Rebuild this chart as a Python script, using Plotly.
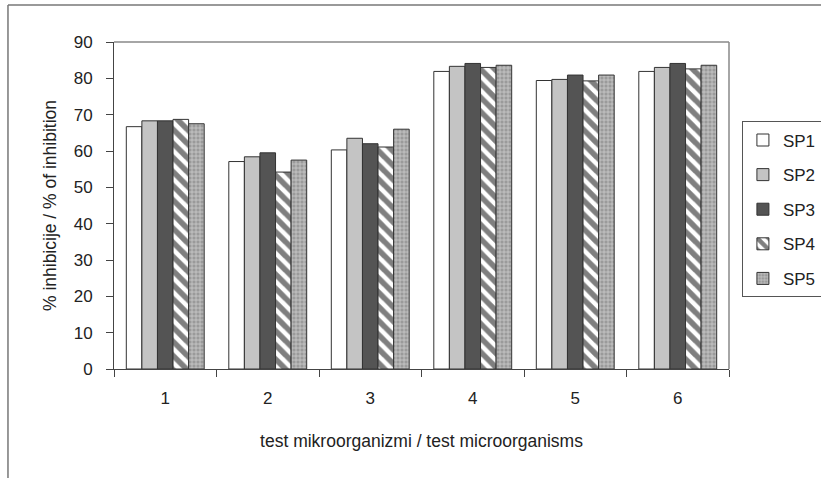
import plotly.graph_objects as go

categories = ["1", "2", "3", "4", "5", "6"]
series_names = ["SP1", "SP2", "SP3", "SP4", "SP5"]
sp1 = [66.7, 57.1, 60.3, 81.9, 79.4, 81.9]
sp2 = [68.3, 58.4, 63.5, 83.3, 79.7, 83.0]
sp3 = [68.3, 59.5, 62.0, 84.1, 80.9, 84.1]
sp4 = [68.7, 54.2, 61.1, 83.0, 79.3, 82.6]
sp5 = [67.5, 57.5, 66.0, 83.6, 80.9, 83.6]
y_ticks = [0, 10, 20, 30, 40, 50, 60, 70, 80, 90]

values = [sp1, sp2, sp3, sp4, sp5]
colors = ["#ffffff", "#c4c4c4", "#545454", "#ffffff", "#a8a8a8"]
patterns = [
    dict(shape=""),
    dict(shape=""),
    dict(shape=""),
    dict(shape="\\", fgcolor="#000000", bgcolor="#ffffff", size=10, solidity=0.55),
    dict(shape="+", fgcolor="#ffffff", bgcolor="#9a9a9a", size=4, solidity=0.35),
]

fig = go.Figure()
for i, (name, vals) in enumerate(zip(series_names, values)):
    fig.add_trace(go.Bar(
        x=categories, y=vals, name=name,
        marker=dict(color=colors[i], line=dict(color="#333333", width=1),
                    pattern=patterns[i]),
        legendgroup=name,
    ))

font_family = "Liberation Sans, Arial, sans-serif"
fig.update_layout(
    width=821, height=478,
    margin=dict(l=114, r=92, t=42, b=109, autoexpand=False),
    paper_bgcolor="white", plot_bgcolor="white",
    barmode="group", bargap=0.24, bargroupgap=0,
    font=dict(family=font_family, size=17, color="#222222"),
    showlegend=True,
    legend=dict(x=1.021, y=0.757, xanchor="left", yanchor="top",
                bordercolor="#555555", borderwidth=1,
                font=dict(size=17, color="#222222"),
                traceorder="grouped", tracegroupgap=9.5,
                itemwidth=30),
    xaxis=dict(type="category", range=[-0.5, 5.5], automargin=False,
               showline=True, linecolor="#444444", linewidth=1,
               ticks="outside", tickson="boundaries", ticklen=7, tickcolor="#444444",
               showgrid=False, zeroline=False,
               tickfont=dict(size=17), ticklabelstandoff=14,
               title=dict(text="test mikroorganizmi / test microorganisms",
                          font=dict(size=17.5), standoff=27)),
    yaxis=dict(range=[0, 90], tickvals=y_ticks, automargin=False,
               showline=True, linecolor="#444444", linewidth=1,
               ticks="outside", ticklen=7, tickcolor="#444444",
               showgrid=False, zeroline=False,
               tickfont=dict(size=17), ticklabelstandoff=10,
               title=dict(text="% inhibicije / % of inhibition",
                          font=dict(size=17.5), standoff=12)),
    shapes=[
        dict(type="line", xref="paper", yref="paper", x0=0, x1=1, y0=1, y1=1,
             line=dict(color="#888888", width=1.5)),
        dict(type="line", xref="paper", yref="paper", x0=1, x1=1, y0=0, y1=1,
             line=dict(color="#888888", width=1.5)),
        dict(type="line", xref="paper", yref="paper", x0=-0.1724, x1=1.2, y0=1.113, y1=1.113,
             line=dict(color="#777777", width=1.5)),
        dict(type="line", xref="paper", yref="paper", x0=-0.1724, x1=-0.1724, y0=-0.34, y1=1.113,
             line=dict(color="#777777", width=1.5)),
    ],
)

fig.write_html("out.html", config={"displayModeBar": False},
               post_script="document.body.style.margin='0';")
